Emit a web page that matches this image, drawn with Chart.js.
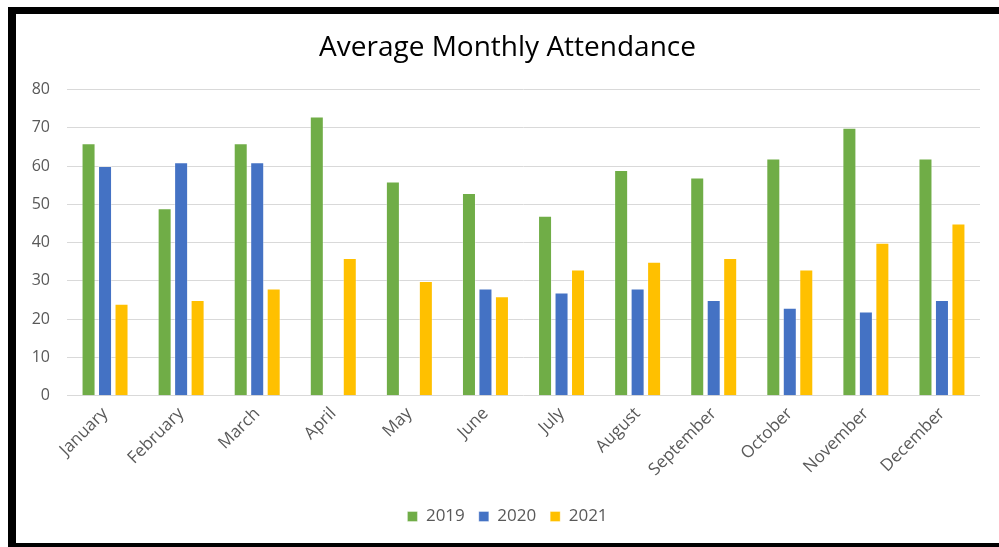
<!DOCTYPE html>
<html>
<head>
<meta charset="utf-8">
<script src="https://cdn.jsdelivr.net/npm/chart.js@4.4.0/dist/chart.umd.min.js"></script>
<style>
  html, body { margin: 0; padding: 0; background: #fff; }
  #wrap { position: relative; width: 999px; height: 547px; overflow: hidden; }
  #attendanceChart { position: absolute; left: 0; top: 0; }
  .frame { position: absolute; background: #000; pointer-events: none; }
</style>
</head>
<body>
<div id="wrap">
  <canvas id="attendanceChart" width="999" height="547"></canvas>
  <div class="frame" style="left:8px;top:7px;width:991px;height:7px;"></div>
  <div class="frame" style="left:8px;top:7px;width:8px;height:540px;"></div>
  <div class="frame" style="left:8px;top:543px;width:991px;height:4px;"></div>
</div>
<script>
// Chart data
const months = ['January', 'February', 'March', 'April', 'May', 'June',
  'July', 'August', 'September', 'October', 'November', 'December'];
const attendance2019 = [66, 49, 66, 73, 56, 53, 47, 59, 57, 62, 70, 62];
const attendance2020 = [60, 61, 61, null, null, 28, 27, 28, 25, 23, 22, 25];
const attendance2021 = [24, 25, 28, 36, 30, 26, 33, 35, 36, 33, 40, 45];
const yTicks = [0, 10, 20, 30, 40, 50, 60, 70, 80];

Chart.defaults.font.family = '"Open Sans", sans-serif';
Chart.defaults.color = '#595959';

function barSet(label, data, color) {
  return {
    label: label,
    data: data,
    backgroundColor: color,
    borderColor: 'rgba(255,255,255,0.35)',
    borderWidth: 1,
    categoryPercentage: 0.65,
    barPercentage: 0.85,
  };
}

const ctx = document.getElementById('attendanceChart');
const attendanceChart = new Chart(ctx, {
  type: 'bar',
  data: {
    labels: months,
    datasets: [
      barSet('2019', attendance2019, '#70AD47'),
      barSet('2020', attendance2020, '#4472C4'),
      barSet('2021', attendance2021, '#FFC000'),
    ],
  },
  options: {
    responsive: false,
    animation: false,
    layout: {
      padding: { left: 16, right: 0, top: 29, bottom: 12 },
    },
    plugins: {
      title: {
        display: true,
        text: 'Average Monthly Attendance',
        color: '#000',
        font: { size: 28, weight: 'normal' },
        padding: { top: 2, bottom: 25 },
      },
      legend: {
        display: true,
        position: 'bottom',
        labels: {
          boxWidth: 10,
          boxHeight: 10,
          padding: 14,
          font: { size: 17 },
        },
      },
      tooltip: { enabled: false },
    },
    scales: {
      y: {
        min: 0,
        max: 80,
        afterBuildTicks: function (scale) {
          scale.ticks = yTicks.map((v) => ({ value: v }));
        },
        afterFit: function (scale) {
          scale.width = 51;
        },
        ticks: {
          padding: 17,
          font: { size: 16 },
        },
        grid: {
          color: '#d9d9d9',
          drawTicks: false,
        },
        border: { display: false },
      },
      // empty spacer on the right so the plot ends where the original does
      yRight: {
        position: 'right',
        min: 0,
        max: 80,
        ticks: { display: false },
        grid: { display: false },
        border: { display: false },
        afterFit: function (scale) {
          scale.width = 19;
        },
      },
      x: {
        grid: { display: false },
        border: { display: false },
        afterFit: function (scale) {
          scale.height += 14;
        },
        ticks: {
          minRotation: 45,
          maxRotation: 45,
          padding: 0,
          font: { size: 17 },
        },
      },
    },
  },
});
</script>
</body>
</html>
